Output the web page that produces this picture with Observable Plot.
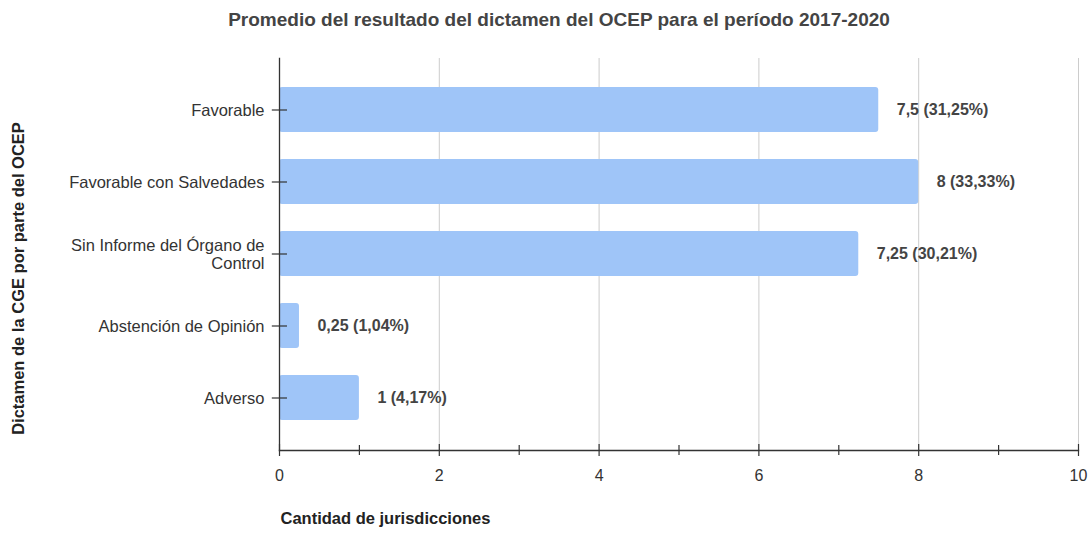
<!DOCTYPE html>
<html>
<head>
<meta charset="utf-8">
<script src="https://cdn.jsdelivr.net/npm/d3@7"></script>
<script src="https://cdn.jsdelivr.net/npm/@observablehq/plot@0.6"></script>
<style>
  body { margin: 0; background: #fff; font-family: "Liberation Sans", Arial, sans-serif; }
  #title { height: 40px; width: 1091px; position: relative; }
  #title span { position: absolute; left: 559px; top: 9px; transform: translateX(-50%); white-space: nowrap;
    font-weight: bold; font-size: 19px; color: #444; }
</style>
</head>
<body>
<div id="title"><span>Promedio del resultado del dictamen del OCEP para el período 2017-2020</span></div>
<div id="chart"></div>
<script>
const categories = ["Favorable", "Favorable con Salvedades", "Sin Informe del Órgano de\nControl", "Abstención de Opinión", "Adverso"];
const values = [7.5, 8, 7.25, 0.25, 1];
const valueLabels = ["7,5 (31,25%)", "8 (33,33%)", "7,25 (30,21%)", "0,25 (1,04%)", "1 (4,17%)"];
const xTicks = [0, 2, 4, 6, 8, 10];
const xMinorTicks = [1, 3, 5, 7, 9];
const xTitle = "Cantidad de jurisdicciones";
const yTitle = "Dictamen de la CGE por parte del OCEP";

const data = categories.map((c, i) => ({cat: c, value: values[i], label: valueLabels[i]}));

const chart = Plot.plot({
  width: 1091,
  height: 495,
  marginLeft: 279,
  marginRight: 13,
  marginTop: 18,
  marginBottom: 85,
  style: {fontFamily: "'Liberation Sans', Arial, sans-serif", fontSize: "16px", color: "#222", background: "#fff"},
  x: {domain: [0, 10]},
  y: {domain: categories, padding: 0.37},
  marks: [
    Plot.ruleX(xTicks.slice(1), {stroke: "#ccc", strokeWidth: 1}),
    Plot.barX(data, {y: "cat", x: "value", fill: "#9fc5f8", rx: 3}),
    Plot.text(data, {y: "cat", x: "value", text: "label", dx: 18, textAnchor: "start", fontWeight: "bold", fill: "#444", fontSize: 16}),
    Plot.frame({anchor: "left", stroke: "#333", strokeWidth: 1.3}),
    Plot.frame({anchor: "bottom", stroke: "#333", strokeWidth: 1.3}),
    Plot.ruleY(data, {y: "cat", x1: -0.09, x2: 0.1, stroke: "#333", strokeWidth: 1.2}),
    Plot.ruleX(xTicks, {insetTop: 386, insetBottom: -6, stroke: "#333", strokeWidth: 1.2}),
    Plot.ruleX(xMinorTicks, {insetTop: 387, insetBottom: -5, stroke: "#333", strokeWidth: 1.2}),
    Plot.axisY({tickSize: 0, tickPadding: 15, label: null, fontSize: 16.5, fill: "#333", lineHeight: 1.1}),
    Plot.axisX({ticks: xTicks, tickSize: 0, tickPadding: 19, label: null, fontSize: 16, fill: "#333"}),
    Plot.text([xTitle], {frameAnchor: "bottom-left", dy: 73, dx: 1, textAnchor: "start", fontWeight: "bold", fontSize: 16.5, fill: "#222"}),
    Plot.text([yTitle], {frameAnchor: "left", rotate: -90, dx: -261, dy: 24, textAnchor: "middle", fontWeight: "bold", fontSize: 16.5, fill: "#222"})
  ]
});
document.getElementById("chart").appendChild(chart);
</script>
</body>
</html>
